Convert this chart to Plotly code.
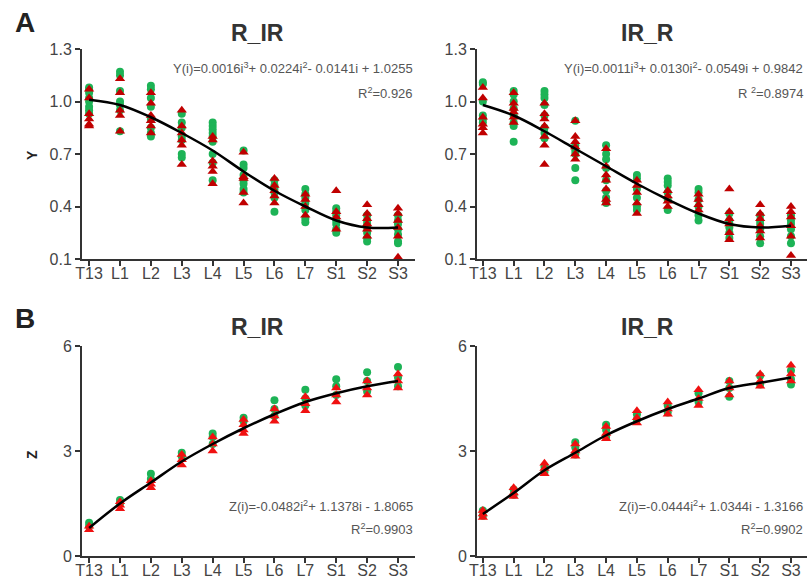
import plotly.graph_objects as go

categories = ["T13", "L1", "L2", "L3", "L4", "L5", "L6", "L7", "S1", "S2", "S3"]

# Panel A, R_IR (Y values)
a_rir_green = [
    [1.08, 1.07, 1.05, 1.02, 1.00, 0.97, 0.95, 0.93],
    [1.17, 1.15, 1.06, 1.00, 0.98, 0.95, 0.83],
    [1.09, 1.07, 1.02, 0.97, 0.90, 0.85, 0.82, 0.80],
    [0.93, 0.88, 0.85, 0.80, 0.78, 0.70, 0.68],
    [0.88, 0.86, 0.84, 0.82, 0.80, 0.77, 0.70, 0.65, 0.55],
    [0.72, 0.64, 0.62, 0.58, 0.55, 0.53, 0.50, 0.48],
    [0.55, 0.52, 0.50, 0.48, 0.45, 0.37],
    [0.50, 0.47, 0.45, 0.42, 0.38, 0.33, 0.31],
    [0.39, 0.37, 0.35, 0.32, 0.30, 0.27, 0.25],
    [0.35, 0.32, 0.30, 0.28, 0.25, 0.22, 0.20],
    [0.35, 0.32, 0.30, 0.27, 0.24, 0.20, 0.19],
]
a_rir_red = [
    [1.07, 1.02, 0.93, 0.90, 0.87, 0.86],
    [1.13, 1.05, 0.95, 0.92, 0.83],
    [1.05, 0.99, 0.92, 0.89, 0.86, 0.82],
    [0.95, 0.86, 0.82, 0.78, 0.75, 0.64],
    [0.80, 0.78, 0.66, 0.63, 0.60, 0.53],
    [0.71, 0.57, 0.56, 0.48, 0.42],
    [0.56, 0.52, 0.49, 0.46, 0.42],
    [0.47, 0.44, 0.40, 0.35],
    [0.49, 0.37, 0.34, 0.27],
    [0.41, 0.36, 0.33, 0.30, 0.27, 0.23],
    [0.39, 0.36, 0.32, 0.28, 0.23, 0.11],
]
a_rir_fit = [1.01, 0.98, 0.91, 0.82, 0.72, 0.60, 0.49, 0.40, 0.32, 0.28, 0.28]

# Panel A, IR_R (Y values)
a_irr_green = [
    [1.11, 1.10, 1.00, 0.92, 0.90, 0.88],
    [1.06, 1.04, 1.00, 0.96, 0.92, 0.88, 0.86, 0.77],
    [1.06, 1.04, 1.02, 0.98, 0.92, 0.85, 0.82, 0.79],
    [0.89, 0.75, 0.72, 0.70, 0.62, 0.55],
    [0.75, 0.70, 0.67, 0.62, 0.55, 0.49, 0.45, 0.42],
    [0.58, 0.56, 0.50, 0.45, 0.40, 0.38],
    [0.56, 0.54, 0.52, 0.48, 0.44, 0.38],
    [0.50, 0.48, 0.44, 0.40, 0.35, 0.32],
    [0.36, 0.32, 0.30, 0.28, 0.25, 0.22],
    [0.35, 0.32, 0.30, 0.27, 0.23, 0.19],
    [0.35, 0.32, 0.30, 0.27, 0.23, 0.19],
]
a_irr_red = [
    [1.08, 1.02, 0.91, 0.87, 0.85, 0.82],
    [1.05, 0.99, 0.96, 0.94, 0.91, 0.88],
    [0.99, 0.93, 0.90, 0.86, 0.80, 0.75, 0.64],
    [0.89, 0.80, 0.77, 0.74, 0.70, 0.67],
    [0.73, 0.63, 0.58, 0.55, 0.50, 0.44, 0.42],
    [0.55, 0.52, 0.48, 0.42, 0.36],
    [0.49, 0.46, 0.43, 0.40],
    [0.47, 0.44, 0.41, 0.38],
    [0.50, 0.37, 0.33, 0.30, 0.25, 0.21],
    [0.41, 0.36, 0.33, 0.29, 0.26, 0.22],
    [0.40, 0.37, 0.34, 0.29, 0.23, 0.12],
]
a_irr_fit = [0.98, 0.92, 0.83, 0.73, 0.63, 0.53, 0.44, 0.36, 0.30, 0.28, 0.29]

# Panel B, R_IR (Z values)
b_rir_green = [
    [0.95, 0.85], [1.6, 1.5], [2.35, 2.2], [2.95, 2.85], [3.5, 3.4, 3.2],
    [3.95, 3.85], [4.45, 4.2, 4.0], [4.75, 4.5, 4.3], [5.05, 4.85, 4.6],
    [5.25, 5.0, 4.7], [5.4, 5.1, 4.85],
]
b_rir_red = [
    [0.85, 0.75], [1.55, 1.45, 1.35], [2.15, 2.05, 1.95], [2.9, 2.75, 2.6],
    [3.4, 3.2, 3.0], [3.9, 3.75, 3.6, 3.5], [4.2, 4.0, 3.85], [4.55, 4.35, 4.15],
    [4.8, 4.6, 4.4], [5.0, 4.8, 4.6], [5.2, 5.0, 4.8],
]
b_rir_fit = [0.80, 1.50, 2.10, 2.70, 3.20, 3.65, 4.05, 4.40, 4.65, 4.85, 5.00]

# Panel B, IR_R (Z values)
b_irr_green = [
    [1.3, 1.15], [1.9, 1.75], [2.55, 2.4], [3.25, 3.1, 2.9], [3.75, 3.6, 3.4],
    [4.05, 3.9], [4.3, 4.1], [4.65, 4.4], [5.0, 4.8, 4.55], [5.15, 4.9],
    [5.3, 5.05, 4.9],
]
b_irr_red = [
    [1.3, 1.2, 1.1], [1.95, 1.8, 1.7], [2.65, 2.5, 2.35], [3.2, 3.0, 2.85],
    [3.7, 3.5, 3.35], [4.15, 3.95, 3.8], [4.4, 4.2, 4.05], [4.75, 4.5, 4.3],
    [5.0, 4.8, 4.6], [5.2, 5.0, 4.85], [5.45, 5.2, 5.0],
]
b_irr_fit = [1.20, 1.80, 2.45, 2.95, 3.45, 3.85, 4.20, 4.50, 4.80, 4.95, 5.10]

GREEN = "#1db356"
DARK_RED = "#c00000"
RED = "#f01010"
AXIS = "#333333"
TICKC = "#444444"


def flatten(groups):
    xs, ys = [], []
    for cat, vals in zip(categories, groups):
        for v in vals:
            xs.append(cat)
            ys.append(v)
    return xs, ys


fig = go.Figure()

panels = [
    ("x", "y", a_rir_green, a_rir_red, a_rir_fit, DARK_RED),
    ("x2", "y2", a_irr_green, a_irr_red, a_irr_fit, DARK_RED),
    ("x3", "y3", b_rir_green, b_rir_red, b_rir_fit, RED),
    ("x4", "y4", b_irr_green, b_irr_red, b_irr_fit, RED),
]

for xa, ya, g, r, fit, rc in panels:
    gx, gy = flatten(g)
    rx, ry = flatten(r)
    fig.add_trace(go.Scatter(x=gx, y=gy, mode="markers", xaxis=xa, yaxis=ya,
                             marker=dict(symbol="circle", size=8, color=GREEN),
                             showlegend=False))
    fig.add_trace(go.Scatter(x=rx, y=ry, mode="markers", xaxis=xa, yaxis=ya,
                             marker=dict(symbol="triangle-up", size=9, color=rc),
                             showlegend=False))
    fig.add_trace(go.Scatter(x=categories, y=fit, mode="lines", xaxis=xa, yaxis=ya,
                             line=dict(color="black", width=2.5, shape="spline", smoothing=1.0),
                             showlegend=False))

W, H = 808, 578
left_dom = [82 / W, 415 / W]
right_dom = [477 / W, 807 / W]
top_dom = [1 - 259 / H, 1 - 49 / H]
bot_dom = [1 - 556 / H, 1 - 346 / H]

TF = dict(family="Liberation Sans, Arial", size=16, color=TICKC)
xcommon = dict(type="category", categoryorder="array", categoryarray=categories,
               showline=True, linecolor=AXIS, linewidth=2, ticks="outside",
               ticklen=5, tickwidth=2, tickcolor=AXIS, showgrid=False, zeroline=False,
               tickfont=TF, automargin=False, ticklabelstandoff=-6)
ycommon = dict(showline=True, linecolor=AXIS, linewidth=2, ticks="outside",
               ticklen=5, tickwidth=2, tickcolor=AXIS, showgrid=False, zeroline=False,
               tickfont=TF, automargin=False)

fig.update_layout(
    width=W, height=H,
    margin=dict(l=0, r=0, t=0, b=0),
    paper_bgcolor="white", plot_bgcolor="white",
    xaxis=dict(xcommon, domain=left_dom, anchor="y", range=[-0.23, 10.55]),
    xaxis2=dict(xcommon, domain=right_dom, anchor="y2", range=[-0.19, 10.52]),
    xaxis3=dict(xcommon, domain=left_dom, anchor="y3", range=[-0.23, 10.55]),
    xaxis4=dict(xcommon, domain=right_dom, anchor="y4", range=[-0.19, 10.52]),
    yaxis=dict(ycommon, domain=top_dom, anchor="x", range=[0.1, 1.3],
               tickvals=[0.1, 0.4, 0.7, 1.0, 1.3], ticktext=["0.1", "0.4", "0.7", "1.0", "1.3"]),
    yaxis2=dict(ycommon, domain=top_dom, anchor="x2", range=[0.1, 1.3],
                tickvals=[0.1, 0.4, 0.7, 1.0, 1.3], ticktext=["0.1", "0.4", "0.7", "1.0", "1.3"]),
    yaxis3=dict(ycommon, domain=bot_dom, anchor="x3", range=[0, 6], tickvals=[0, 3, 6]),
    yaxis4=dict(ycommon, domain=bot_dom, anchor="x4", range=[0, 6], tickvals=[0, 3, 6]),
)

FONT = "Liberation Sans, Arial"


def px_ann(text, x, y, size, color="#222222", bold=False, xanchor="center", yanchor="middle", angle=0):
    if bold:
        text = "<b>" + text + "</b>"
    fig.add_annotation(text=text, x=x / W, y=1 - y / H, xref="paper", yref="paper",
                       showarrow=False, xanchor=xanchor, yanchor=yanchor, textangle=angle,
                       font=dict(family=FONT, size=size, color=color))


px_ann("A", 25, 22, 28, "#222222", True)
px_ann("B", 25, 318, 28, "#222222", True)
px_ann("R_IR", 257, 33, 23, "#333333", True)
px_ann("IR_R", 647, 33, 23, "#333333", True)
px_ann("R_IR", 257, 327, 23, "#333333", True)
px_ann("IR_R", 647, 327, 23, "#333333", True)
px_ann("Y", 32, 155, 14, "#222222", True, angle=-90)
px_ann("Z", 32, 455, 14, "#222222", True, angle=-90)

EQC = "#555555"
px_ann("Y(i)=0.0016i<sup>3</sup>+ 0.0224i<sup>2</sup>- 0.0141i + 1.0255", 415, 68, 13, EQC, xanchor="right")
px_ann("R<sup>2</sup>=0.926", 415, 93, 13, EQC, xanchor="right")
px_ann("Y(i)=0.0011i<sup>3</sup>+ 0.0130i<sup>2</sup>- 0.0549i + 0.9842", 805, 68, 13, EQC, xanchor="right")
px_ann("R <sup>2</sup>=0.8974", 805, 93, 13, EQC, xanchor="right")
px_ann("Z(i)=-0.0482i<sup>2</sup>+ 1.1378i - 1.8065", 415, 506, 13, EQC, xanchor="right")
px_ann("R<sup>2</sup>=0.9903", 415, 529, 13, EQC, xanchor="right")
px_ann("Z(i)=-0.0444i<sup>2</sup>+ 1.0344i - 1.3166", 805, 506, 13, EQC, xanchor="right")
px_ann("R<sup>2</sup>=0.9902", 805, 529, 13, EQC, xanchor="right")

fig.write_html("out.html", config={"displayModeBar": False},
               post_script="document.body.style.margin='0';document.body.style.overflow='hidden';")
